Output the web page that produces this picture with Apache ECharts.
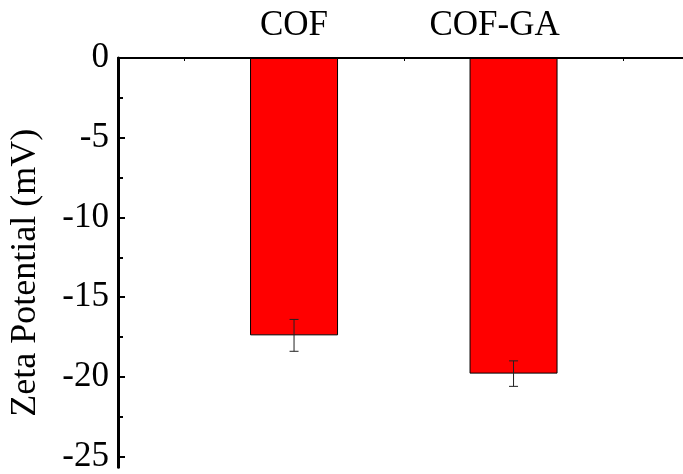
<!DOCTYPE html>
<html>
<head>
<meta charset="utf-8">
<script src="https://cdn.jsdelivr.net/npm/echarts@6/dist/echarts.min.js"></script>
<style>html,body{margin:0;padding:0;background:#fff;}#c{width:683px;height:474px;}</style>
</head>
<body>
<div id="c"></div>
<script>
var categories = ['COF', 'COF-GA'];
var positions = [1, 2];
var zetaValues = [-17.4, -19.8];
var zetaErrors = [1.0, 0.8];
var yTickValues = [0, -5, -10, -15, -20, -25];
var yMinorTickValues = [-2.5, -7.5, -12.5, -17.5, -22.5];
var xTickValues = [0.5, 1, 1.5, 2, 2.5];

var font = 'Liberation Serif';
var chart = echarts.init(document.getElementById('c'));

var barData = positions.map(function (p, i) { return [p, zetaValues[i]]; });
var errData = positions.map(function (p, i) { return [p, zetaValues[i], zetaErrors[i]]; });

chart.setOption({
  animation: false,
  backgroundColor: '#fff',
  grid: { left: 118, top: 58, right: 0, bottom: 0, containLabel: false },
  xAxis: {
    type: 'value', position: 'top', min: 0.198, max: 2.772,
    splitLine: { show: false },
    axisLine: { show: true, lineStyle: { color: '#000', width: 2 } },
    axisTick: { show: true, inside: true, length: 3, customValues: xTickValues, lineStyle: { color: '#000', width: 1 } },
    axisLabel: {
      show: true, customValues: positions, margin: 15,
      fontFamily: font, fontSize: 35, color: '#000',
      formatter: function (v) {
        var i = positions.indexOf(Math.round(v * 1000) / 1000);
        if (i < 0) return '';
        return i === 1 ? '{s|' + categories[i] + '}' : categories[i];
      },
      rich: {
        s: { fontFamily: font, fontSize: 35, color: '#000', padding: [0, 38, 0, 0] }
      }
    }
  },
  yAxis: [{
    type: 'value', min: -25.68, max: 0,
    name: 'Zeta Potential (mV)', nameLocation: 'middle', nameGap: 74,
    nameTextStyle: { fontFamily: font, fontSize: 36, color: '#000', padding: [0, 20, 0, 0] },
    splitLine: { show: false },
    axisLine: { show: true, lineStyle: { color: '#000', width: 3 } },
    axisTick: { show: true, inside: true, length: 7, customValues: yTickValues, lineStyle: { color: '#000', width: 2 } },
    axisLabel: {
      show: true, customValues: yTickValues, margin: 9,
      fontFamily: font, fontSize: 35, color: '#000'
    }
  }, {
    type: 'value', min: -25.68, max: 0, position: 'left',
    splitLine: { show: false },
    axisLine: { show: false },
    axisTick: { show: true, inside: true, length: 5, customValues: yMinorTickValues, lineStyle: { color: '#000', width: 2 } },
    axisLabel: { show: false }
  }],
  series: [{
    type: 'bar', data: barData, barWidth: 88,
    itemStyle: { color: '#ff0000', borderColor: '#000', borderWidth: 1 }
  }, {
    type: 'custom', data: errData, z: 10,
    renderItem: function (params, api) {
      var x = api.value(0), y = api.value(1), e = api.value(2);
      var top = api.coord([x, y + e]);
      var bot = api.coord([x, y - e]);
      var hw = 4.5;
      var style = { stroke: '#222', lineWidth: 1 };
      return {
        type: 'group',
        children: [
          { type: 'line', shape: { x1: top[0], y1: top[1], x2: bot[0], y2: bot[1] }, style: style },
          { type: 'line', shape: { x1: top[0] - hw, y1: top[1], x2: top[0] + hw, y2: top[1] }, style: style },
          { type: 'line', shape: { x1: bot[0] - hw, y1: bot[1], x2: bot[0] + hw, y2: bot[1] }, style: style }
        ]
      };
    }
  }]
});
</script>
</body>
</html>
